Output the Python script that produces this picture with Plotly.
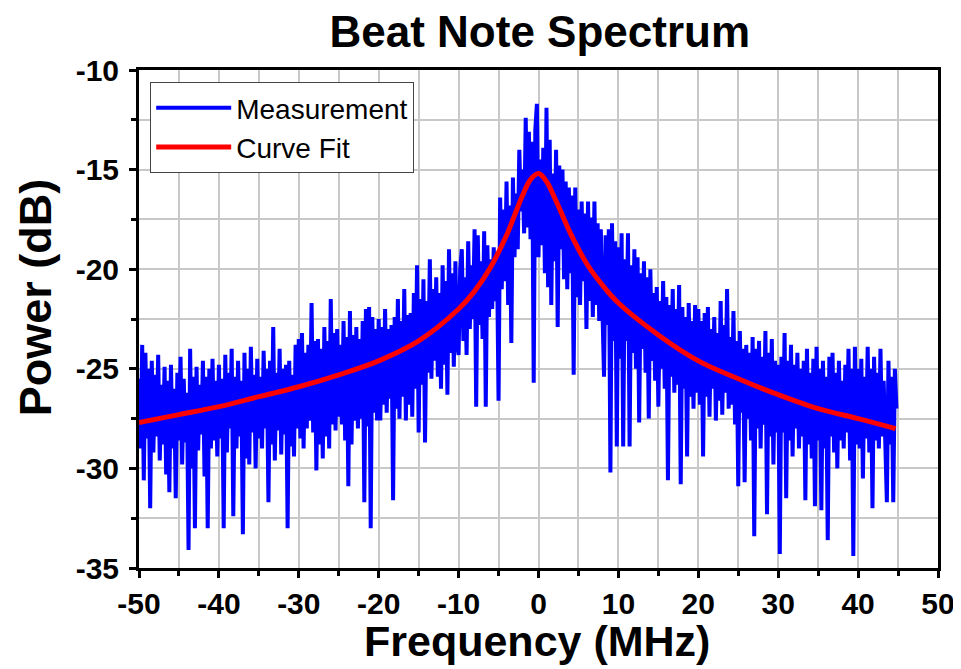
import plotly.graph_objects as go

# ---------------- data ----------------
FREQ_START = -50.0   # MHz, first measurement bin
FREQ_STEP = 0.2      # MHz, bin spacing

# Measurement (dB), one row per 10 MHz (50 bins of 0.2 MHz)
meas_m50 = [-25.5, -29.0, -23.8, -30.6, -24.2, -28.5, -25.0, -32.0, -24.6, -29.2,
            -25.3, -28.4, -24.3, -29.6, -25.8, -28.8, -24.9, -30.3, -25.6, -31.2,
            -24.8, -29.0, -26.0, -31.5, -25.2, -28.6, -24.4, -29.8, -25.5, -28.7,
            -26.2, -34.1, -24.0, -30.0, -25.4, -33.0, -24.9, -29.1, -25.8, -28.3,
            -24.6, -30.4, -25.4, -33.0, -25.0, -29.0, -24.5, -28.6, -25.6, -29.4]
meas_m40 = [-24.8, -28.5, -25.5, -33.0, -24.3, -29.2, -25.2, -28.0, -24.0, -32.4,
            -25.4, -29.0, -24.6, -28.4, -25.6, -33.3, -24.2, -29.5, -25.0, -29.8,
            -23.9, -28.2, -25.3, -30.0, -24.5, -28.5, -25.4, -29.0, -24.1, -28.0,
            -25.0, -31.7, -24.6, -28.8, -22.9, -29.6, -25.2, -28.1, -24.0, -29.3,
            -25.0, -28.3, -24.8, -33.0, -24.6, -28.9, -25.3, -29.4, -23.8, -28.0]
meas_m30 = [-23.5, -28.5, -23.2, -29.0, -24.2, -28.0, -23.8, -27.6, -21.7, -28.2,
            -23.6, -30.1, -23.5, -28.8, -24.0, -29.5, -22.9, -28.4, -23.6, -29.0,
            -21.5, -27.8, -23.2, -28.1, -23.0, -27.4, -23.8, -27.8, -22.6, -28.6,
            -23.4, -30.9, -22.1, -28.8, -23.3, -27.6, -22.9, -28.0, -23.5, -27.5,
            -22.6, -31.7, -22.0, -27.9, -21.9, -33.0, -22.4, -27.2, -23.0, -27.6]
meas_m20 = [-22.5, -27.6, -22.9, -26.8, -22.0, -27.2, -23.0, -26.5, -22.8, -31.6,
            -22.4, -27.0, -21.5, -27.5, -22.6, -26.4, -21.0, -27.6, -22.3, -26.8,
            -22.2, -27.4, -21.2, -26.0, -19.8, -28.2, -21.5, -25.8, -20.5, -28.7,
            -21.6, -25.2, -19.5, -25.5, -21.0, -24.6, -20.4, -25.4, -21.2, -26.0,
            -19.8, -24.8, -20.6, -26.3, -19.0, -24.2, -20.2, -24.9, -19.6, -23.8]
meas_m10 = [-24.3, -20.0, -19.0, -23.6, -20.4, -24.3, -18.6, -23.0, -19.8, -22.5,
            -18.0, -26.9, -18.3, -22.8, -19.6, -23.5, -18.1, -26.9, -18.8, -22.4,
            -19.5, -22.0, -18.9, -21.6, -19.2, -26.6, -16.4, -21.0, -17.0, -20.6,
            -15.6, -21.8, -16.8, -23.7, -15.4, -19.4, -16.2, -19.0, -14.0, -17.1,
            -15.0, -18.2, -12.4, -17.9, -13.1, -18.5, -13.6, -25.7, -13.0, -11.7]
meas_p00 = [-19.4, -14.5, -18.8, -13.9, -20.2, -11.9, -20.9, -13.5, -21.8, -15.2,
            -19.6, -14.0, -22.9, -14.8, -19.0, -15.0, -20.5, -15.6, -21.0, -15.9,
            -20.2, -16.3, -25.3, -15.9, -21.4, -17.0, -21.8, -16.6, -20.6, -17.2,
            -23.0, -16.6, -21.6, -17.4, -22.4, -16.6, -21.8, -17.7, -22.6, -18.0,
            -22.0, -25.4, -18.3, -22.8, -18.0, -30.2, -17.7, -23.6, -18.6, -28.9]
meas_p10 = [-18.9, -24.5, -18.2, -28.9, -19.5, -23.6, -18.2, -28.9, -19.8, -24.2,
            -19.0, -25.0, -19.4, -27.7, -20.2, -24.0, -19.6, -25.2, -20.4, -27.5,
            -20.0, -24.6, -21.2, -25.6, -20.9, -26.9, -21.6, -25.0, -20.6, -26.0,
            -21.4, -30.6, -21.8, -25.4, -21.0, -26.2, -22.0, -25.8, -20.8, -30.8,
            -21.9, -26.0, -22.4, -29.4, -21.7, -26.4, -22.6, -27.0, -21.8, -26.2]
meas_p20 = [-22.0, -26.8, -22.6, -29.4, -22.2, -26.4, -21.9, -27.4, -23.0, -26.0,
            -22.4, -27.6, -23.2, -26.6, -21.6, -27.3, -22.8, -26.2, -21.0, -27.0,
            -23.4, -26.8, -22.1, -27.8, -23.6, -30.9, -23.1, -27.2, -24.0, -30.7,
            -23.8, -27.5, -24.2, -28.6, -23.4, -33.4, -24.0, -28.0, -23.6, -29.0,
            -24.4, -27.8, -23.1, -32.3, -24.2, -28.4, -23.5, -29.8, -24.6, -28.2]
meas_p30 = [-24.8, -34.3, -24.4, -28.2, -23.2, -31.5, -24.6, -28.6, -23.8, -29.4,
            -24.8, -28.0, -24.2, -29.0, -25.0, -28.4, -24.6, -31.6, -24.0, -28.8,
            -25.2, -29.5, -24.5, -31.9, -23.9, -28.6, -25.0, -32.1, -24.6, -29.0,
            -25.4, -33.6, -24.4, -28.4, -24.2, -29.2, -25.2, -30.0, -24.6, -28.6,
            -25.6, -29.0, -24.8, -28.2, -24.0, -29.6, -25.0, -34.4, -23.9, -28.8]
meas_p40 = [-25.0, -29.0, -24.5, -30.5, -25.4, -28.5, -23.9, -29.2, -25.0, -32.0,
            -24.4, -28.6, -25.2, -29.0, -24.0, -28.4, -25.6, -29.4, -31.7, -24.6,
            -28.8, -25.4, -31.7, -25.0, -27.0]

# Curve fit (dB) read at these frequencies (MHz)
fit_freq = [-50, -45, -40, -35, -30, -25, -20, -15, -10, -8, -6, -4, -3, -2, -1,
            0, 1, 2, 3, 4, 6, 8, 10, 15, 20, 25, 30, 35, 40, 44.7]
fit_db = [-27.7, -27.3, -26.9, -26.4, -25.9, -25.3, -24.6, -23.6, -22.0, -21.1,
          -19.9, -18.3, -17.3, -16.3, -15.5, -15.2, -15.6, -16.4, -17.3, -18.2,
          -19.7, -20.8, -21.7, -23.3, -24.6, -25.5, -26.3, -27.0, -27.5, -28.0]

x_ticks = [-50, -40, -30, -20, -10, 0, 10, 20, 30, 40, 50]
y_ticks = [-35, -30, -25, -20, -15, -10]

# ---------------- build ----------------
meas_db = (meas_m50 + meas_m40 + meas_m30 + meas_m20 + meas_m10 +
           meas_p00 + meas_p10 + meas_p20 + meas_p30 + meas_p40)
meas_freq = [round(FREQ_START + FREQ_STEP * i, 3) for i in range(len(meas_db))]

FONT = "Liberation Sans, Arial, sans-serif"

fig = go.Figure()
fig.add_trace(go.Scatter(x=meas_freq, y=meas_db, mode="lines", name="Measurement",
                         line=dict(color="#0000ff", width=4)))
fig.add_trace(go.Scatter(x=fit_freq, y=fit_db, mode="lines", name="Curve Fit",
                         line=dict(color="#ff0000", width=5, shape="spline")))

axis_common = dict(
    showline=True, linecolor="black", linewidth=3, mirror=True,
    ticks="outside", ticklen=7, tickwidth=3, tickcolor="black",
    showgrid=True, gridcolor="#c8c8c8", gridwidth=2,
    zeroline=False, automargin=False,
    tickfont=dict(family=FONT, size=30, color="black", weight="bold"),
)

fig.update_xaxes(
    **axis_common,
    range=[-50, 50], tickvals=x_ticks, ticktext=[str(v) for v in x_ticks],
    minor=dict(dtick=5, tick0=0, ticks="outside", ticklen=5, tickwidth=3,
               tickcolor="black", showgrid=True, gridcolor="#c8c8c8", gridwidth=2),
)
fig.update_yaxes(
    **axis_common,
    range=[-35, -10], tickvals=y_ticks, ticktext=[str(v) for v in y_ticks],
    ticklabelstandoff=4,
    minor=dict(dtick=2.5, tick0=0, ticks="outside", ticklen=5, tickwidth=3,
               tickcolor="black", showgrid=True, gridcolor="#c8c8c8", gridwidth=2),
)

# axis titles placed as annotations (paper coordinates)
fig.add_annotation(
    text="Frequency (MHz)", xref="paper", yref="paper", x=0.4985, y=-0.1466,
    xanchor="center", yanchor="middle", showarrow=False,
    font=dict(family=FONT, size=43, color="black", weight="bold"),
)
fig.add_annotation(
    text="Power (dB)", xref="paper", yref="paper", x=-0.130, y=0.544,
    xanchor="center", yanchor="middle", textangle=-90, showarrow=False,
    font=dict(family=FONT, size=45, color="black", weight="bold"),
)

fig.update_layout(
    width=953, height=661,
    margin=dict(l=131, r=23, t=62, b=101),
    paper_bgcolor="white", plot_bgcolor="white",
    title=dict(text="Beat Note Spectrum", x=0.558, xanchor="center",
               y=0.9637, yanchor="middle",
               font=dict(family=FONT, size=44, color="black", weight="bold")),
    showlegend=True,
    legend=dict(x=0.014, y=0.976, xanchor="left", yanchor="top",
                bgcolor="white", bordercolor="#444444", borderwidth=1,
                font=dict(family=FONT, size=28, color="black"),
                itemwidth=75, tracegroupgap=0),
)

fig.write_html("out.html")
